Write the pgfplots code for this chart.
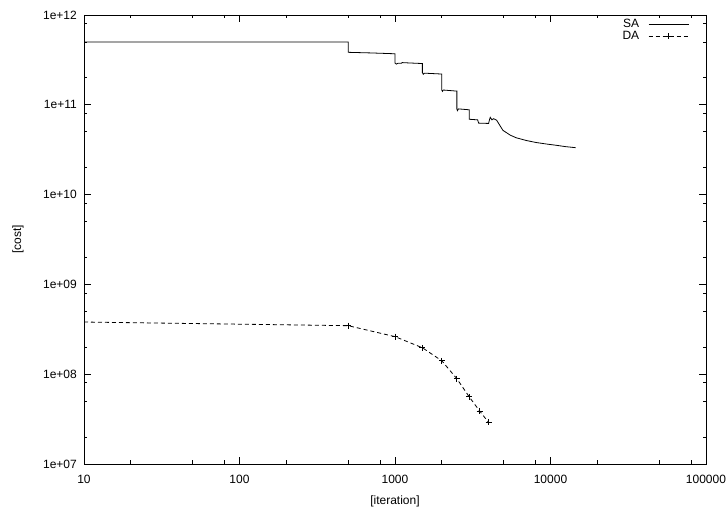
\documentclass[border=0pt]{standalone}
\usepackage{fontspec}
\setmainfont{Liberation Sans}
\usepackage{pgfplots}
\pgfplotsset{compat=1.18}
\begin{document}
\begin{tikzpicture}
\path[use as bounding box] (-84pt,-47pt) rectangle (644pt,464pt);
\begin{axis}[
  at={(0pt,0pt)}, anchor=south west,
  scale only axis, width=622pt, height=449pt,
  xmode=log, ymode=log,
  xmin=10, xmax=100000, ymin=1e7, ymax=1e12,
  xtick={10,100,1000,10000,100000},
  xticklabels={10,100,1000,10000,100000},
  ytick={1e7,1e8,1e9,1e10,1e11,1e12},
  yticklabels={1e+07,1e+08,1e+09,1e+10,1e+11,1e+12},
  minor xtick={20,50,80,200,500,800,2000,5000,8000,20000,50000,80000},
  minor ytick={2e7,5e7,8e7,2e8,5e8,8e8,2e9,5e9,8e9,2e10,5e10,8e10,2e11,5e11,8e11},
  tick align=inside, tick pos=both,
  major tick length=7pt, minor tick length=3.5pt,
  every tick/.style={black, line width=0.8pt},
  axis line style={line width=0.9pt, black},
  font=\fontsize{12}{14}\selectfont,
  /pgf/number format/assume math mode=true,
  yticklabel style={anchor=east, inner sep=0pt, xshift=-7pt},
  xticklabel style={anchor=center, inner sep=0pt, yshift=-15pt},
  xlabel={[iteration]}, ylabel={[cost]},
  xlabel style={at={(axis description cs:0.5,-0.084)}, anchor=center, inner sep=0pt},
  ylabel style={at={(axis description cs:-0.1061,0.5)}, anchor=center, inner sep=0pt, rotate=0},
  legend plot pos=right,
  legend cell align=right,
  legend image code/.code={\draw[#1, mark indices={2}] plot coordinates {(0pt,0pt) (20pt,0pt) (40pt,0pt)};},
  legend style={draw=none, fill=none, at={(axis description cs:0.9727,0.991)}, anchor=north east,
    inner sep=0pt, outer sep=0pt, nodes={inner sep=0pt, font=\fontsize{12}{14}\selectfont}, row sep=2.5pt, column sep=9pt},
]
\addplot[black, line width=0.8pt, mark=none] coordinates {
(10,5e11) (500,5e11) (500,3.84e11) (700,3.78e11) (1000,3.7e11)
(1000,2.92e11) (1020,2.84e11) (1045,2.9e11) (1100,2.9e11) (1110,2.95e11) (1200,2.93e11) (1500,2.88e11)
(1500,2.28e11) (1520,2.19e11) (1545,2.25e11) (2000,2.2e11)
(2000,1.46e11) (2020,1.41e11) (2045,1.46e11) (2500,1.42e11)
(2500,9.0e10) (2520,8.6e10) (2560,9.0e10) (3000,8.8e10)
(3000,6.9e10) (3400,6.8e10) (3450,6.25e10) (4000,6.2e10)
(4050,6.8e10) (4100,7.25e10) (4200,6.8e10) (4300,7.0e10) (4500,6.75e10)
(4940,5.2e10) (5500,4.6e10) (6000,4.3e10) (7000,4.0e10) (8100,3.8e10)
(9500,3.65e10) (10900,3.54e10) (12500,3.42e10) (14500,3.33e10)
};
\addlegendentry{SA}
\addplot[black, line width=0.8pt, dash pattern=on 4pt off 3pt, mark=+, mark size=3pt,
  mark indices={2,3,4,5,6,7,8,9}, mark options={solid}] coordinates {
(10,3.81e8) (500,3.47e8) (1000,2.62e8) (1500,1.97e8) (2000,1.41e8)
(2500,8.9e7) (3000,5.6e7) (3500,3.9e7) (4000,2.9e7)
};
\addlegendentry{DA}
\end{axis}
\end{tikzpicture}
\end{document}
